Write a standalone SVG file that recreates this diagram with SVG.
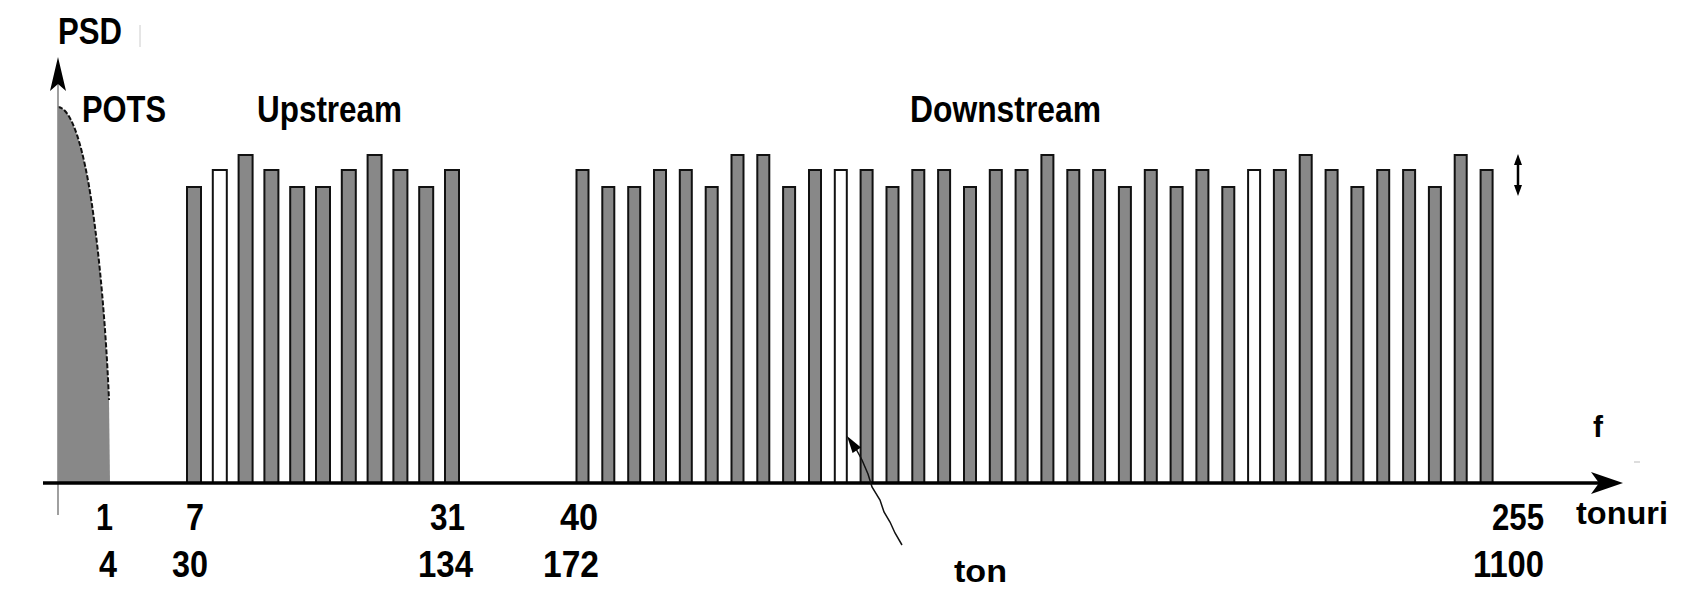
<svg xmlns="http://www.w3.org/2000/svg" width="1707" height="607" viewBox="0 0 1707 607">
<style>
.g{fill:#888;stroke:#111;stroke-width:2}
.w{fill:#fff;stroke:#111;stroke-width:2}
.lab{font-family:"Liberation Sans",Arial,sans-serif;font-weight:bold;fill:#000}
.big{font-size:36px}
.num{font-size:36px}
.hv{font-size:32px}
</style>
<rect x="0" y="0" width="1707" height="607" fill="#fff"/>
<g id="pots">
<path d="M58,483 L58,107 C72,108 84,150 92,205 C100,260 106,330 109,400 L110,483 Z" fill="#888" stroke="none"/>
<path d="M58,107 C72,108 84,150 92,205 C100,260 106,330 109,400" fill="none" stroke="#111" stroke-width="2" stroke-dasharray="5 2"/>
</g>
<g id="upstream-bars">
<rect class="g" x="187" y="187" width="14" height="296"/>
<rect class="w" x="212.8" y="170" width="14" height="313"/>
<rect class="g" x="238.6" y="155" width="14" height="328"/>
<rect class="g" x="264.4" y="170" width="14" height="313"/>
<rect class="g" x="290.2" y="187" width="14" height="296"/>
<rect class="g" x="316" y="187" width="14" height="296"/>
<rect class="g" x="341.8" y="170" width="14" height="313"/>
<rect class="g" x="367.6" y="155" width="14" height="328"/>
<rect class="g" x="393.4" y="170" width="14" height="313"/>
<rect class="g" x="419.2" y="187" width="14" height="296"/>
<rect class="g" x="445" y="170" width="14" height="313"/>
</g>
<g id="downstream-bars">
<rect class="g" x="576.5" y="170" width="12" height="313"/>
<rect class="g" x="602.3" y="187" width="12" height="296"/>
<rect class="g" x="628.2" y="187" width="12" height="296"/>
<rect class="g" x="654" y="170" width="12" height="313"/>
<rect class="g" x="679.8" y="170" width="12" height="313"/>
<rect class="g" x="705.7" y="187" width="12" height="296"/>
<rect class="g" x="731.5" y="155" width="12" height="328"/>
<rect class="g" x="757.3" y="155" width="12" height="328"/>
<rect class="g" x="783.1" y="187" width="12" height="296"/>
<rect class="g" x="809" y="170" width="12" height="313"/>
<rect class="w" x="834.8" y="170" width="12" height="313"/>
<rect class="g" x="860.6" y="170" width="12" height="313"/>
<rect class="g" x="886.5" y="187" width="12" height="296"/>
<rect class="g" x="912.3" y="170" width="12" height="313"/>
<rect class="g" x="938.1" y="170" width="12" height="313"/>
<rect class="g" x="964" y="187" width="12" height="296"/>
<rect class="g" x="989.8" y="170" width="12" height="313"/>
<rect class="g" x="1015.6" y="170" width="12" height="313"/>
<rect class="g" x="1041.4" y="155" width="12" height="328"/>
<rect class="g" x="1067.3" y="170" width="12" height="313"/>
<rect class="g" x="1093.1" y="170" width="12" height="313"/>
<rect class="g" x="1118.9" y="187" width="12" height="296"/>
<rect class="g" x="1144.8" y="170" width="12" height="313"/>
<rect class="g" x="1170.6" y="187" width="12" height="296"/>
<rect class="g" x="1196.4" y="170" width="12" height="313"/>
<rect class="g" x="1222.3" y="187" width="12" height="296"/>
<rect class="w" x="1248.1" y="170" width="12" height="313"/>
<rect class="g" x="1273.9" y="170" width="12" height="313"/>
<rect class="g" x="1299.7" y="155" width="12" height="328"/>
<rect class="g" x="1325.6" y="170" width="12" height="313"/>
<rect class="g" x="1351.4" y="187" width="12" height="296"/>
<rect class="g" x="1377.2" y="170" width="12" height="313"/>
<rect class="g" x="1403.1" y="170" width="12" height="313"/>
<rect class="g" x="1428.9" y="187" width="12" height="296"/>
<rect class="g" x="1454.7" y="155" width="12" height="328"/>
<rect class="g" x="1480.6" y="170" width="12" height="313"/>
</g>
<g id="connectors">
<line x1="58" y1="70" x2="58" y2="515" stroke="#888" stroke-width="1.6"/>
<polygon points="58,57 66,91 58,84 50,91" fill="#000"/>
<line x1="43" y1="483" x2="1600" y2="483" stroke="#000" stroke-width="3.5"/>
<polygon points="1623,483 1591,472 1599,483 1591,494" fill="#000"/>
<path d="M855,447 L862,460 L868,474 L872,487 L880,500 L884,512 L890,522 L895,533 L902,545" fill="none" stroke="#111" stroke-width="1.5"/>
<polygon points="847,436 861,447.5 852.6,453.1" fill="#000"/>
<line x1="1518" y1="160" x2="1518" y2="190" stroke="#000" stroke-width="2.5"/>
<polygon points="1518,154 1514,165 1522,165" fill="#000"/>
<polygon points="1518,196 1514,185 1522,185" fill="#000"/>
<line x1="140" y1="25" x2="140" y2="47" stroke="#ccc" stroke-width="1"/>
<line x1="1634" y1="462" x2="1640" y2="462" stroke="#bbb" stroke-width="1"/>
</g>
<g id="labels">
<text class="lab big" x="58" y="44" textLength="64" lengthAdjust="spacingAndGlyphs">PSD</text>
<text class="lab big" x="82" y="122" textLength="84" lengthAdjust="spacingAndGlyphs">POTS</text>
<text class="lab big" x="257" y="122" textLength="145" lengthAdjust="spacingAndGlyphs">Upstream</text>
<text class="lab big" x="910" y="122" textLength="191" lengthAdjust="spacingAndGlyphs">Downstream</text>
<text class="lab" style="font-size:30px" x="1593" y="437">f</text>
<text class="lab hv" x="1576" y="524" textLength="92" lengthAdjust="spacingAndGlyphs">tonuri</text>
<text class="lab hv" x="954" y="582" textLength="53" lengthAdjust="spacingAndGlyphs">ton</text>
<text class="lab num" x="96" y="530" textLength="17" lengthAdjust="spacingAndGlyphs">1</text>
<text class="lab num" x="186" y="530" textLength="18" lengthAdjust="spacingAndGlyphs">7</text>
<text class="lab num" x="430" y="530" textLength="35" lengthAdjust="spacingAndGlyphs">31</text>
<text class="lab num" x="560" y="530" textLength="38" lengthAdjust="spacingAndGlyphs">40</text>
<text class="lab num" x="1492" y="530" textLength="52" lengthAdjust="spacingAndGlyphs">255</text>
<text class="lab num" x="99" y="577" textLength="18" lengthAdjust="spacingAndGlyphs">4</text>
<text class="lab num" x="172" y="577" textLength="36" lengthAdjust="spacingAndGlyphs">30</text>
<text class="lab num" x="418" y="577" textLength="55" lengthAdjust="spacingAndGlyphs">134</text>
<text class="lab num" x="543" y="577" textLength="56" lengthAdjust="spacingAndGlyphs">172</text>
<text class="lab num" x="1473" y="577" textLength="71" lengthAdjust="spacingAndGlyphs">1100</text>
</g>
</svg>
